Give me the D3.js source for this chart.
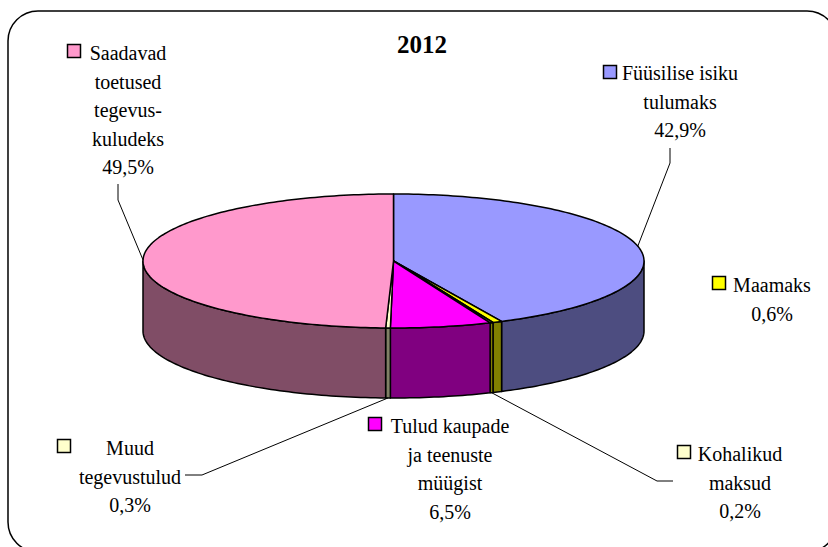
<!DOCTYPE html>
<html lang="et">
<head>
    <meta charset="UTF-8">
    <title>2012</title>
    <script src="https://d3js.org/d3.v7.min.js"></script>
    <style>
        html, body {
            margin: 0;
            padding: 0;
            background-color: #fff;
            overflow: hidden;
        }

        svg {
            display: block;
        }

        text {
            font-family: "Liberation Serif", serif;
            font-size: 20px;
            fill: #000;
            text-anchor: middle;
        }

        .title {
            font-size: 25px;
            font-weight: bold;
        }
    </style>
</head>
<body>

<div id="chart"></div>

<script type="text/javascript">
    // Data
    const title = "2012";
    const categories = [
        ["Füüsilise isiku", "tulumaks"],
        ["Maamaks"],
        ["Kohalikud", "maksud"],
        ["Tulud kaupade", "ja teenuste", "müügist"],
        ["Muud", "tegevustulud"],
        ["Saadavad", "toetused", "tegevus-", "kuludeks"]
    ];
    const values = [42.9, 0.6, 0.2, 6.5, 0.3, 49.5];
    const valueLabels = ["42,9%", "0,6%", "0,2%", "6,5%", "0,3%", "49,5%"];

    // Styling, same order as the data
    const topColors = ["#9999FF", "#FFFF00", "#FFFFCC", "#FF00FF", "#FFFFCC", "#FF99CC"];
    const wallColors = ["#4D4D80", "#808000", "#808000", "#800080", "#808066", "#804D66"];

    // Label layout: text centre, first baseline, legend key corner
    const labelLayout = [
        { x: 680, y: 80, keyX: 603.5, keyY: 65.5 },
        { x: 772, y: 292, keyX: 712.5, keyY: 276.5 },
        { x: 740, y: 461, keyX: 677.5, keyY: 445.5 },
        { x: 450, y: 433, keyX: 368.5, keyY: 417.5 },
        { x: 130, y: 455, keyX: 57.5, keyY: 439.5 },
        { x: 128, y: 60, keyX: 67.5, keyY: 44.5 }
    ];

    // Leader lines: label end and elbow, last point comes from the slice
    const leaders = [
        { slice: 0, points: [[670, 148], [670, 163]], onWall: false },
        { slice: 2, points: [[673, 481], [657, 481]], onWall: true },
        { slice: 4, points: [[185, 475], [202, 475]], onWall: true },
        { slice: 5, points: [[118, 184], [118, 200]], onWall: false }
    ];

    const width = 828, height = 547;
    const cx = 393.5, cy = 261, rx = 250.5, ry = 67, depth = 70;

    const x = d3.scaleLinear().domain([-1, 1]).range([cx - rx, cx + rx]);
    const y = d3.scaleLinear().domain([-1, 1]).range([cy - ry, cy + ry]);

    const slices = d3.pie().sort(null).startAngle(0).endAngle(2 * Math.PI)(values)
        .sort((a, b) => a.index - b.index);

    const rimX = a => x(Math.sin(a));
    const rimY = a => y(-Math.cos(a));
    const line = d3.line();

    // sample the rim between two angles
    function rim(a0, a1, dy) {
        const steps = Math.max(2, Math.ceil((a1 - a0) / 0.02));
        return d3.range(steps + 1).map(i => {
            const a = a0 + (a1 - a0) * i / steps;
            return [rimX(a), rimY(a) + dy];
        });
    }

    const svg = d3.select("#chart")
        .append("svg")
        .attr("width", width)
        .attr("height", height);

    // Frame, runs off the right and bottom of the picture
    svg.append("rect")
        .attr("x", 8)
        .attr("y", 11)
        .attr("width", 829)
        .attr("height", 541)
        .attr("rx", 30)
        .attr("ry", 30)
        .attr("fill", "#fff")
        .attr("stroke", "#000")
        .attr("stroke-width", 1.5);

    // Walls, only the front half of the pie shows them
    slices.forEach(s => {
        const a0 = Math.max(s.startAngle, Math.PI / 2);
        const a1 = Math.min(s.endAngle, 3 * Math.PI / 2);
        if (a1 <= a0) return;
        const pts = rim(a0, a1, 0).concat(rim(a0, a1, depth).reverse());
        svg.append("path")
            .attr("d", line(pts) + "Z")
            .attr("fill", wallColors[s.index])
            .attr("stroke", "#000")
            .attr("stroke-width", 1.5)
            .attr("stroke-linejoin", "round");
    });

    // Top faces
    slices.forEach(s => {
        const pts = [[x(0), y(0)]].concat(rim(s.startAngle, s.endAngle, 0));
        svg.append("path")
            .attr("d", line(pts) + "Z")
            .attr("fill", topColors[s.index])
            .attr("stroke", "#000")
            .attr("stroke-width", 1.5)
            .attr("stroke-linejoin", "round");
    });

    // Leader lines
    leaders.forEach(d => {
        const s = slices[d.slice];
        const mid = (s.startAngle + s.endAngle) / 2;
        const end = [rimX(mid), rimY(mid) + (d.onWall ? depth : 0)];
        svg.append("path")
            .attr("d", line(d.points.concat([end])))
            .attr("fill", "none")
            .attr("stroke", "#000")
            .attr("stroke-width", 1);
    });

    // Title
    svg.append("text")
        .attr("class", "title")
        .attr("x", 422)
        .attr("y", 53)
        .text(title);

    // Data labels with legend keys
    categories.forEach((lines, i) => {
        const pos = labelLayout[i];
        const label = svg.append("text")
            .attr("x", pos.x)
            .attr("y", pos.y);

        lines.concat([valueLabels[i]]).forEach((t, j) => {
            label.append("tspan")
                .attr("x", pos.x)
                .attr("y", pos.y + j * 28.6)
                .text(t);
        });

        svg.append("rect")
            .attr("x", pos.keyX)
            .attr("y", pos.keyY)
            .attr("width", 13)
            .attr("height", 13)
            .attr("fill", topColors[i])
            .attr("stroke", "#000")
            .attr("stroke-width", 1.5);
    });
</script>

</body>
</html>
